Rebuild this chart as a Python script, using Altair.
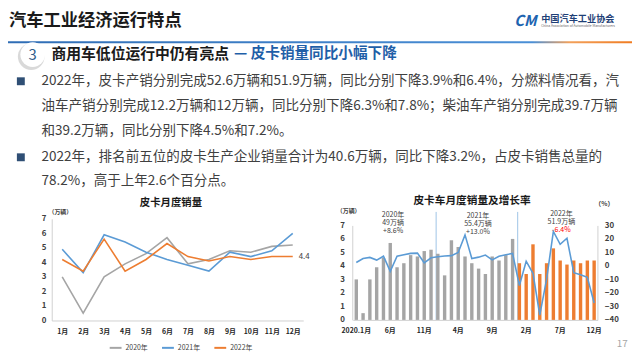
import altair as alt
import pandas as pd

FONT = "Noto Sans CJK SC"
OX, OY = 8, 8  # page margin offset

# ---------------- data ----------------
months = ["1月", "2月", "3月", "4月", "5月", "6月", "7月", "8月", "9月", "10月", "11月", "12月"]
years = ["2020年", "2021年", "2022年"]
sales_2020 = [3.0, 0.5, 3.0, 3.9, 4.6, 5.7, 3.9, 4.2, 4.8, 4.7, 5.1, 5.2]
sales_2021 = [4.9, 3.3, 5.9, 5.4, 4.7, 4.2, 3.8, 3.4, 4.7, 4.4, 4.8, 6.0]
sales_2022 = [4.2, 3.4, 5.6, 3.4, 4.2, 5.3, 4.4, 4.1, 4.4, 4.2, 4.4, 4.4]
growth_2020 = [2.5, 5.5, 6.3, 4.3, 7.2, -4.0, 7.2, 8.3, 9.3, 9.5, 2.3, 6.0]
growth_2021 = [6.8, 7.3, 7.6, 10.0, 23.0, 5.5, 6.5, 8.0, 4.5, 7.2, 8.3, 9.2]
growth_2022 = [-14.5, 3.5, -5.5, -36.5, -10.0, 25.5, 16.0, 20.5, -5.0, -6.5, -8.5, -27.5]
right_tick_labels = ["2020.1月", "6月", "11月", "4月", "9月", "2月", "7月", "12月"]
year_totals = ["49万辆", "55.4万辆", "51.9万辆"]
year_rates = ["+8.6%", "+13.0%", "-6.4%"]
year_breaks = [12, 24]

header_title = "汽车工业经济运行特点"
org_name = "中国汽车工业协会"
org_en = "China Association of Automobile Manufacturers"
section_no = "3"
section_title = "商用车低位运行中仍有亮点"
section_sub = "— 皮卡销量同比小幅下降"
bullet_lines = [
    "2022年，皮卡产销分别完成52.6万辆和51.9万辆，同比分别下降3.9%和6.4%，分燃料情况看，汽",
    "油车产销分别完成12.2万辆和12万辆，同比分别下降6.3%和7.8%；柴油车产销分别完成39.7万辆",
    "和39.2万辆，同比分别下降4.5%和7.2%。",
    "2022年，排名前五位的皮卡生产企业销量合计为40.6万辆，同比下降3.2%，占皮卡销售总量的",
    "78.2%，高于上年2.6个百分点。",
]
bullet_starts = [0, 3]
left_title = "皮卡月度销量"
right_title = "皮卡车月度销量及增长率"
unit_wan = "（万辆）"
unit_pct = "（%）"
page_no = "17"

GRAY, BLUE, ORANGE = "#a5a5a5", "#5b9bd5", "#ed7d31"

# ---------------- tables ----------------
left_rows = []
for y, vals in zip(years, [sales_2020, sales_2021, sales_2022]):
    for m, v in zip(months, vals):
        left_rows.append({"month": m, "year": y, "value": v})
df_left = pd.DataFrame(left_rows)
df_last = df_left[(df_left.year == years[-1]) & (df_left.month == months[-1])]

right_rows = []
for k, (y, vals, gr) in enumerate(zip(years, [sales_2020, sales_2021, sales_2022],
                                        [growth_2020, growth_2021, growth_2022])):
    for j, (v, g) in enumerate(zip(vals, gr)):
        right_rows.append({"idx": k * 12 + j, "year": y, "value": v, "growth": g})
df_right = pd.DataFrame(right_rows)
df_breaks = pd.DataFrame({"idx": year_breaks, "y0": [0, 0], "y1": [8, 8]})


def P(x, y):
    return alt.value(x - OX), alt.value(y - OY)


def txt(s, x, y, size, color, bold=False, align="left", baseline="middle", italic=False):
    px, py = P(x, y)
    return alt.Chart(pd.DataFrame({"t": [s]})).mark_text(
        align=align, baseline=baseline, fontSize=size, font=FONT,
        fontWeight="bold" if bold else "normal", color=color,
        fontStyle="italic" if italic else "normal",
    ).encode(text="t:N", x=px, y=py)


layers = []

# ---------------- header ----------------
layers.append(txt(header_title, 9, 19.5, 17.5, "#1a1a1a", bold=True))
layers.append(txt("CM", 532, 19, 15, "#1d64b0", bold=True, align="center", italic=True))
layers.append(txt(org_name, 548, 16.5, 9.3, "#1f3f77", bold=True))
layers.append(txt(org_en, 548, 24, 3.4, "#666666"))
grad = alt.Gradient(gradient="linear", x1=0, x2=1, y1=0, y2=0,
                    stops=[alt.GradientStop(color="#2f6db5", offset=0),
                           alt.GradientStop(color="#4a8fd6", offset=0.84),
                           alt.GradientStop(color="#f2a05a", offset=0.9),
                           alt.GradientStop(color="#f07c22", offset=1)])
layers.append(alt.Chart(pd.DataFrame({"a": [0]})).mark_rect(fill=grad).encode(
    x=alt.value(0), x2=alt.value(632), y=alt.value(31.5), y2=alt.value(33.5)))

# section circle
cx, cy = P(33, 53)
sx, sy = P(31.5, 55)
layers.append(alt.Chart(pd.DataFrame({"a": [0]})).mark_circle(size=27 ** 2, color="#cfcfcf", opacity=0.8).encode(x=sx, y=sy))
layers.append(alt.Chart(pd.DataFrame({"a": [0]})).mark_circle(size=25 ** 2, color="#ffffff", opacity=1).encode(x=cx, y=cy))
layers.append(txt(section_no, 33, 53, 15, "#2e5c8a", align="center"))
layers.append(txt(section_title, 52, 52, 15, "#1a1a1a", bold=True))
layers.append(txt(section_sub, 237, 52, 14.8, "#1f5fa8", bold=True))

# bullets
line_y = [80, 105.5, 130, 157, 181]
for i, (s, yy) in enumerate(zip(bullet_lines, line_y)):
    layers.append(txt(s, 42, yy, 13.7, "#404040"))
    if i in bullet_starts:
        bx, by = P(21, yy)
        layers.append(alt.Chart(pd.DataFrame({"a": [0]})).mark_square(size=64, color="#2f4f75", opacity=1).encode(x=bx, y=by))

# ---------------- left chart ----------------
x_left = alt.X("month:O", sort=months, title=None,
               scale=alt.Scale(type="point", domain=months, range=[44.3, 299.0], padding=0.5),
               axis=alt.Axis(orient="bottom", offset=-29.7, domainColor="#d0d0d0", ticks=False, grid=False,
                             labelFont=FONT, labelFontSize=7, labelFontWeight="bold", labelColor="#262626",
                             labelPadding=7, labelAngle=0))
y_left = alt.Y("value:Q", title=None,
               scale=alt.Scale(domain=[0, 7], range=[314.3, 211.3], nice=False, zero=False),
               axis=alt.Axis(orient="left", offset=-44.3, values=list(range(8)), domainColor="#d0d0d0",
                             ticks=False, grid=False, labelFont=FONT, labelFontSize=8, labelFontWeight="bold",
                             labelColor="#404040", labelPadding=6))
left_lines = alt.Chart(df_left).mark_line(strokeWidth=1.6).encode(
    x=x_left, y=y_left,
    color=alt.Color("year:N", scale=alt.Scale(domain=years, range=[GRAY, BLUE, ORANGE]),
                    legend=alt.Legend(orient="none", legendX=102, legendY=335, direction="horizontal",
                                      title=None, symbolType="stroke", symbolSize=144, symbolStrokeWidth=2,
                                      labelFont=FONT, labelFontSize=7, labelColor="#404040",
                                      labelOffset=3, columnPadding=10)),
    detail="year:N")
left_label = alt.Chart(df_last).mark_text(align="left", dx=6, fontSize=8, font=FONT, color="#404040").encode(
    x=x_left, y=y_left, text=alt.Text("value:Q", format=".1f"))
left_layer = alt.layer(left_lines, left_label)

layers.append(txt(left_title, 173, 203, 10.5, "#1a1a1a", bold=True, align="center"))
layers.append(txt(unit_wan, 61, 212.5, 6, "#404040", bold=True, align="center"))

# ---------------- right chart ----------------
x_scale_r = alt.Scale(domain=list(range(36)), range=[349.3, 597.1], paddingInner=0.5, paddingOuter=0.25)
label_expr = "[" + ",".join("'%s'" % s for s in right_tick_labels) + "][floor(datum.value / 5)]"
x_axis_r = alt.Axis(orient="bottom", offset=-30.3, values=list(range(0, 36, 5)), labelExpr=label_expr,
                    domainColor="#d0d0d0", ticks=False, grid=False, labelFont=FONT, labelFontSize=7,
                    labelFontWeight="bold", labelColor="#262626", labelPadding=7, labelAngle=0)
y_scale_r = alt.Scale(domain=[0, 7], range=[313.7, 218], nice=False, zero=False)

bars = alt.Chart(df_right).mark_bar().encode(
    x=alt.X("idx:O", title=None, scale=x_scale_r, axis=x_axis_r),
    y=alt.Y("value:Q", title=None, scale=y_scale_r,
            axis=alt.Axis(orient="left", offset=-348.7, values=list(range(8)), domainColor="#d0d0d0",
                          ticks=False, grid=False, labelFont=FONT, labelFontSize=8, labelFontWeight="bold",
                          labelColor="#404040", labelPadding=8)),
    color=alt.Color("year:N", scale=alt.Scale(domain=years, range=[GRAY, GRAY, ORANGE]), legend=None))
seps = alt.Chart(df_breaks).mark_rule(color="#9dc3e6", strokeWidth=1).encode(
    x=alt.X("idx:O", title=None, scale=x_scale_r, axis=x_axis_r, bandPosition=0),
    y=alt.Y("y0:Q", scale=y_scale_r, axis=None), y2="y1:Q")
growth = alt.Chart(df_right).mark_line(color=BLUE, strokeWidth=1.6).encode(
    x=alt.X("idx:O", title=None, scale=x_scale_r, axis=x_axis_r, bandPosition=0.5),
    y=alt.Y("growth:Q", title=None,
            scale=alt.Scale(domain=[-40, 30], range=[313.7, 218], nice=False, zero=False),
            axis=alt.Axis(orient="right", offset=-35, values=list(range(-40, 31, 10)), domainColor="#d0d0d0",
                          ticks=False, grid=False, labelFont=FONT, labelFontSize=8, labelFontWeight="bold",
                          labelColor="#404040", labelPadding=7)))
right_layer = alt.layer(seps, bars, growth).resolve_scale(y="independent")

layers.append(txt(right_title, 478, 201.5, 10.8, "#1a1a1a", bold=True, align="center"))
layers.append(txt(unit_wan, 353, 211.5, 6, "#404040", bold=True, align="center"))
layers.append(txt(unit_pct, 612, 204, 6.5, "#404040", bold=True, align="center"))

ann_x = [398, 484, 568.5]
ann_y0 = [215.5, 216.5, 214.5]
for k in range(3):
    layers.append(txt(years[k], ann_x[k], ann_y0[k], 7.1, "#404040", align="center"))
    layers.append(txt(year_totals[k], ann_x[k], ann_y0[k] + 8.2, 7.1, "#404040", align="center"))
    layers.append(txt(year_rates[k], ann_x[k], ann_y0[k] + 16.4, 7.1, "#ff0000" if k == 2 else "#404040",
                      align="center"))

layers.append(txt(page_no, 630, 346, 10, "#a6a6a6", align="center"))

chart = alt.layer(*layers, left_layer, right_layer).resolve_scale(
    x="independent", y="independent", color="independent"
).properties(width=632, height=344, padding=0, autosize=alt.AutoSizeParams(type="none")).configure_view(stroke=None)

chart.save("out.html", embed_options={"renderer": "svg", "actions": False})
